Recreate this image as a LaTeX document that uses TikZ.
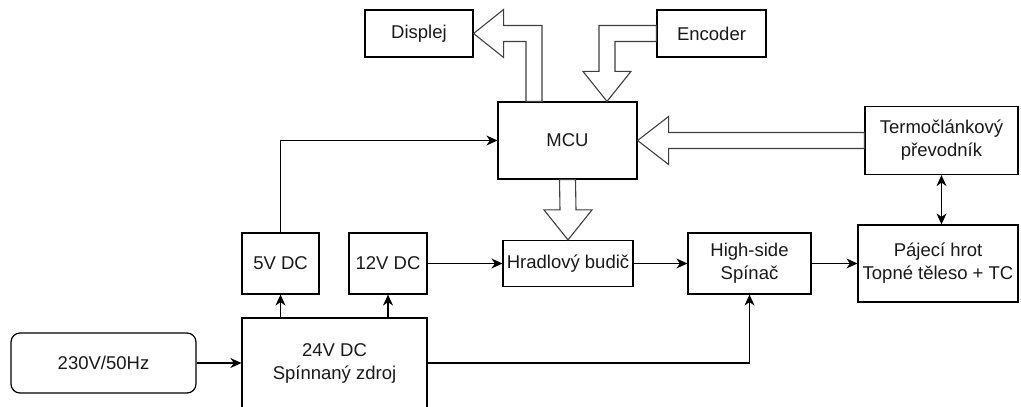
\documentclass[tikz,border=0pt]{standalone}
\usepackage{fontspec}
\setmainfont{Liberation Sans}
\usetikzlibrary{arrows.meta,calc}
\tikzset{
  blok/.style={draw, line width=1.2pt, inner sep=0pt, align=center,
    text=black!90, font=\fontsize{18.5}{23}\selectfont},
  sipka/.style={line width=1.2pt, -{Stealth[length=11pt,width=10pt,inset=3.5pt]}},
  obousipka/.style={line width=1.2pt, {Stealth[length=11pt,width=10pt,inset=3.5pt]}-{Stealth[length=11pt,width=10pt,inset=3.5pt]}},
  datova/.style={draw=black!75, line width=1.1pt, fill=white, line join=miter}
}
\begin{document}
\begin{tikzpicture}[x=1pt,y=1pt]
    \useasboundingbox (0,0) rectangle (1021,407);

    % Bloky
    \node[blok, minimum width=108pt, minimum height=47pt] (displej) at (419,373.5) {Displej};
    \node[blok, minimum width=109pt, minimum height=47pt] (encoder) at (711.5,373.5) {Encoder};
    \node[blok, minimum width=139pt, minimum height=77pt] (mcu) at (567.5,266.5) {MCU};
    \node[blok, minimum width=153pt, minimum height=68pt] (termo) at (941.5,266.5) {Termočlánkový\\převodník};
    \node[blok, minimum width=130pt, minimum height=46pt] (budic) at (568,143.5) {Hradlový budič};
    \node[blok, minimum width=123pt, minimum height=61pt] (spinac) at (749.5,143.5) {High-side\\Spínač};
    \node[blok, minimum width=160pt, minimum height=77pt] (hrot) at (938,143.5) {Pájecí hrot\\Topné těleso + TC};
    \node[blok, minimum width=77pt, minimum height=61pt] (dc5) at (280.5,143.5) {5V DC};
    \node[blok, minimum width=78pt, minimum height=61pt] (dc12) at (388,143.5) {12V DC};
    \node[blok, minimum width=185pt, minimum height=90pt] (zdroj) at (334.5,44) {24V DC\\Spínnaný zdroj};
    \node[blok, rounded corners=9pt, minimum width=185pt, minimum height=60pt] (sit) at (103.5,44) {230V/50Hz};

    % Napajeni
    \draw[sipka] (sit.east) -- (zdroj.west);
    \draw[sipka] (dc5.south |- zdroj.north) -- (dc5.south);
    \draw[sipka] (dc12.south |- zdroj.north) -- (dc12.south);
    \draw[sipka] (dc5.north) |- (mcu.west);
    \draw[sipka] (zdroj.east) -| (spinac.south);

    % Vykonova cesta
    \draw[sipka] (dc12.east) -- (budic.west);
    \draw[sipka] (budic.east) -- (spinac.west);
    \draw[sipka] (spinac.east) -- (hrot.west);
    \draw[obousipka] (termo.south) -- (termo.south |- hrot.north);

    % Datove sbernice
    \coordinate (dv) at ($(mcu.north)+(-33.5,0)$);
    \coordinate (ev) at ($(mcu.north)+(39.5,0)$);
    \draw[datova] (termo.west) ++(0,8) -- ($(mcu.east)+(31,8)$) -- ++(0,16) -- (mcu.east)
        -- ++(31,-24) -- ++(0,16) -- ($(termo.west)+(0,-8)$) -- cycle;
    \draw[datova] (budic.north) -- ++(-24,30) -- ++(16,0) -- ($(mcu.south)+(-8,0)$)
        -- ($(mcu.south)+(8,0)$) -- ($(budic.north)+(8,30)$) -- ++(16,0) -- cycle;
    \draw[datova] (displej.east) -- ++(30,24) -- ++(0,-16) -- ($(dv |- displej.east)+(8,8)$)
        -- ($(dv)+(8,0)$) -- ($(dv)+(-8,0)$) -- ($(dv |- displej.east)+(-8,-8)$)
        -- ($(displej.east)+(30,-8)$) -- ++(0,-16) -- cycle;
    \draw[datova] (ev) -- ++(-24,30) -- ++(16,0) -- ($(ev |- encoder.west)+(-8,8)$)
        -- ($(encoder.west)+(0,8)$) -- ($(encoder.west)+(0,-8)$) -- ($(ev |- encoder.west)+(8,-8)$)
        -- ($(ev)+(8,30)$) -- ++(16,0) -- cycle;
\end{tikzpicture}
\end{document}
